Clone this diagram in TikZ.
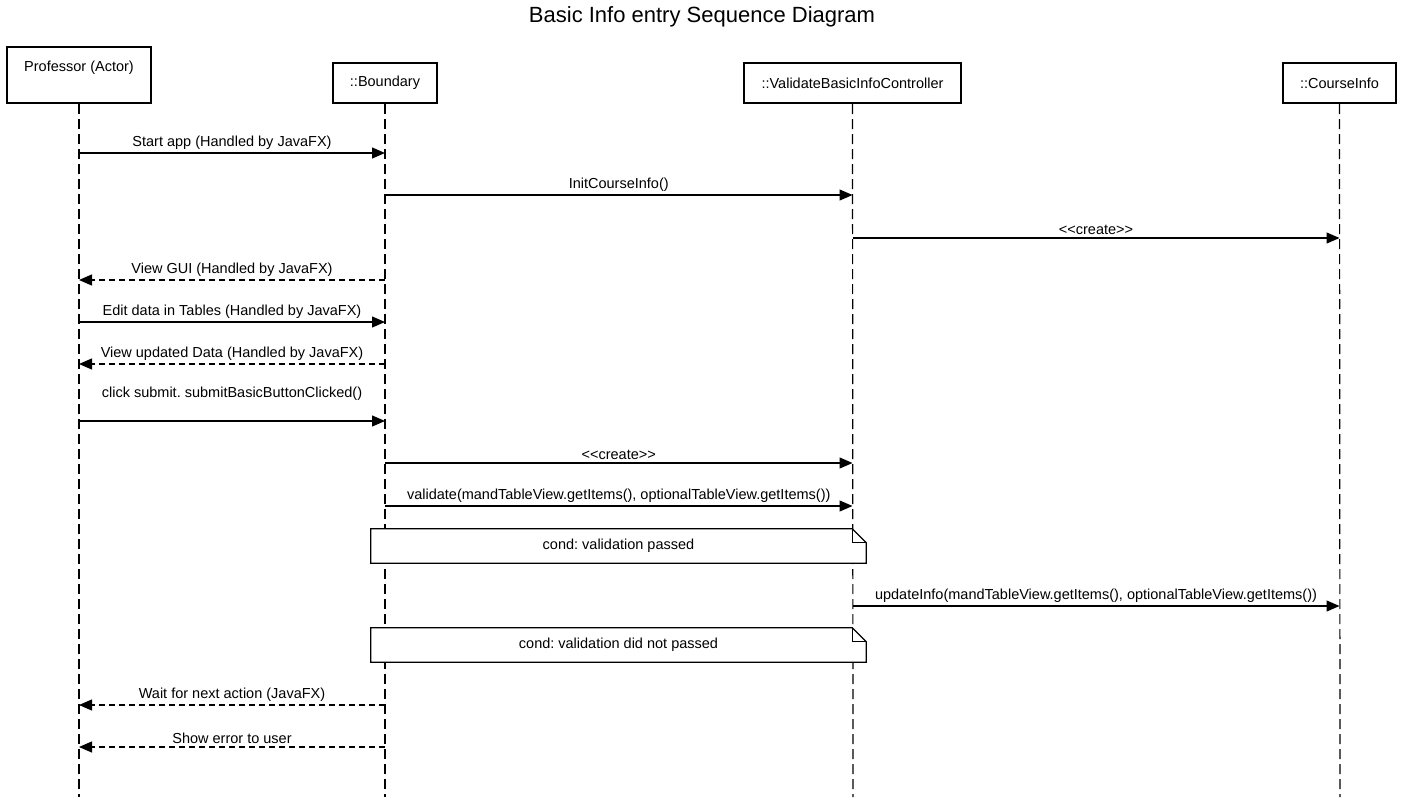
\documentclass[tikz,border=0pt]{standalone}
\usepackage{fontspec}
\setmainfont{Liberation Sans}
\frenchspacing
\usetikzlibrary{arrows.meta,calc}
\begin{document}
\begin{tikzpicture}[x=1pt,y=-1pt,
  lbl/.style={font=\fontsize{14.5}{17}\selectfont\frenchspacing},
  lifebox/.style={draw,line width=2.3pt,fill=white,inner sep=0pt,lbl},
  lifeline/.style={line width=1.2pt,dash pattern=on 10pt off 5pt},
  msg/.style={line width=1.2pt,-{Triangle[length=13pt,width=11pt]}},
  ret/.style={msg,dash pattern=on 6pt off 4pt},
  mlabel/.style={midway,above=3pt,inner sep=0pt,lbl},
  notebox/.style={fill=white,inner sep=0pt,minimum width=495pt,minimum height=34pt,lbl},
  noteline/.style={line width=1.2pt,line join=miter}
]
\useasboundingbox (0,0) rectangle (1403,800);

\node[font=\fontsize{22}{26}\selectfont] (title) at (702,17) {Basic Info entry Sequence Diagram};

% lifeline heads
\node[lifebox,minimum width=144pt,minimum height=56pt,
      label={[lbl,yshift=7pt]center:Professor (Actor)}] (prof) at (79,75) {};
\node[lifebox,minimum width=104pt,minimum height=40pt] (bound) at (385,83) {::Boundary};
\node[lifebox,minimum width=217pt,minimum height=40pt] (ctrl) at (852.5,83) {::ValidateBasicInfoController};
\node[lifebox,minimum width=113pt,minimum height=40pt] (course) at (1339.5,83) {::CourseInfo};

\coordinate (profend) at (79,797);
\coordinate (boundend) at (385,797);
\coordinate (ctrlend) at (853,797);
\coordinate (courseend) at (1340,797);

\draw[lifeline] (prof.south) -- (profend);
\draw[lifeline] (bound.south) -- (boundend);
\draw[lifeline] (ctrl.south) -- (ctrlend);
\draw[lifeline] (course.south) -- (courseend);

% messages
\draw[msg] (prof.south |- 0,153) -- (bound.south |- 0,153) node[mlabel] {Start app (Handled by JavaFX)};
\draw[msg] (bound.south |- 0,195) -- (ctrl.south |- 0,195) node[mlabel] {InitCourseInfo()};
\draw[msg] (ctrl.south |- 0,238) -- (course.south |- 0,238) node[mlabel] {<{}<create>{}>};
\draw[ret] (bound.south |- 0,280) -- (prof.south |- 0,280) node[mlabel] {View GUI (Handled by JavaFX)};
\draw[msg] (prof.south |- 0,322) -- (bound.south |- 0,322) node[mlabel] {Edit data in Tables (Handled by JavaFX)};
\draw[ret] (bound.south |- 0,364) -- (prof.south |- 0,364) node[mlabel] {View updated Data (Handled by JavaFX)};
\draw[msg] (prof.south |- 0,421) -- (bound.south |- 0,421) node[midway,above=20pt,inner sep=0pt,lbl] {click submit. submitBasicButtonClicked()};
\draw[msg] (bound.south |- 0,463) -- (ctrl.south |- 0,463) node[mlabel] {<{}<create>{}>};
\draw[msg] (bound.south |- 0,506) -- (ctrl.south |- 0,506) node[mlabel] {validate(mandTableView.getItems(), optionalTableView.getItems())};

% note 1
\node[notebox] (note1) at (618.5,546) {cond: validation passed};
\draw[noteline] (note1.north west) -- ($(note1.north east)+(-14,0)$) -- ($(note1.north east)+(0,14)$) -- (note1.south east) -- (note1.south west) -- cycle;
\draw[noteline] ($(note1.north east)+(-14,0)$) -- ($(note1.north east)+(-14,14)$) -- ($(note1.north east)+(0,14)$);

\draw[msg] (ctrl.south |- 0,606) -- (course.south |- 0,606) node[mlabel] {updateInfo(mandTableView.getItems(), optionalTableView.getItems())};

% note 2
\node[notebox] (note2) at (618.5,645) {cond: validation did not passed};
\draw[noteline] (note2.north west) -- ($(note2.north east)+(-14,0)$) -- ($(note2.north east)+(0,14)$) -- (note2.south east) -- (note2.south west) -- cycle;
\draw[noteline] ($(note2.north east)+(-14,0)$) -- ($(note2.north east)+(-14,14)$) -- ($(note2.north east)+(0,14)$);

\draw[ret] (bound.south |- 0,705) -- (prof.south |- 0,705) node[mlabel] {Wait for next action (JavaFX)};
\draw[ret] (bound.south |- 0,747) -- (prof.south |- 0,747) node[mlabel] {Show error to user};
\end{tikzpicture}
\end{document}
